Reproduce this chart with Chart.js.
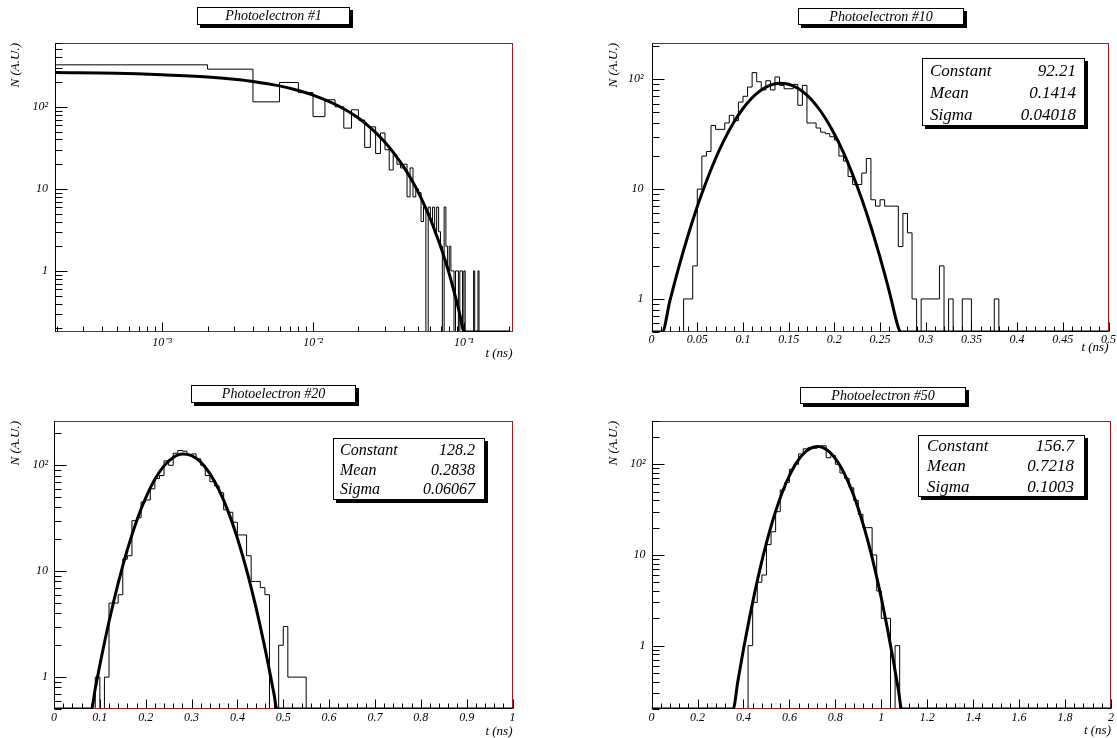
<!DOCTYPE html>
<html>
<head>
<meta charset="utf-8">
<script src="https://cdn.jsdelivr.net/npm/chart.js@4.4.1/dist/chart.umd.min.js"></script>
<style>
  body { margin: 0; background: #fff; width: 1117px; height: 738px; position: relative; overflow: hidden; }
  .pane { position: absolute; }
  .box { position: absolute; box-sizing: border-box; border: 1px solid #000; box-shadow: 3px 3px 0 #000; background: #fff;
         font-family: 'Liberation Serif', 'Times New Roman', serif; font-style: italic; color: #000; }
  .title { text-align: center; font-size: 14px; line-height: 15px; }
  .row { display: flex; justify-content: space-between; }
</style>
</head>
<body>
<div class="pane" style="left:0;top:0;width:558px;height:370px"><canvas id="c1"></canvas></div>
<div class="pane" style="left:558px;top:0;width:559px;height:370px"><canvas id="c2"></canvas></div>
<div class="pane" style="left:0;top:370px;width:558px;height:368px"><canvas id="c3"></canvas></div>
<div class="pane" style="left:558px;top:370px;width:559px;height:368px"><canvas id="c4"></canvas></div>
<script>
// ---------- data ----------
const titles = ['Photoelectron #1', 'Photoelectron #10', 'Photoelectron #20', 'Photoelectron #50'];
const xTitle = 't (ns)';
const yTitle = 'N (A.U.)';
const decadeLabels = { '-3': '10⁻³', '-2': '10⁻²', '-1': '10⁻¹', '0': '1', '1': '10', '2': '10²' };
const statNames = ['Constant', 'Mean', 'Sigma'];

// panel 1: 100 bins over 0..0.2 ns, log-log
const p1Range = [0, 0.2];
const p1Counts = [
  325, 288, 115, 198, 149, 76, 122, 100, 55, 92,
  69, 32, 57, 27, 48, 30, 17, 26, 20, 18,
  20, 8, 18, 8, 10, 9, 4, 6, 0, 6,
  4, 6, 3, 6, 3, 2, 0, 6, 2, 1,
  2, 1, 1, 0, 1, 1, 0, 1, 1, 0,
  1, 0, 0, 0, 0, 0, 0, 0, 1, 0,
  0, 0, 1, 0, 0, 0, 0, 0, 0, 0,
  0, 0, 0, 0, 0, 0, 0, 0, 0, 0,
  0, 0, 0, 0, 0, 0, 0, 0, 0, 0,
  0, 0, 0, 0, 0, 0, 0, 0, 0, 0
];
const p1FitT = [0.000195, 0.0005, 0.001, 0.002, 0.003, 0.004, 0.006, 0.008, 0.01, 0.015, 0.02, 0.025, 0.03, 0.035,
  0.04, 0.045, 0.05, 0.055, 0.06, 0.065, 0.07, 0.075, 0.08, 0.085, 0.09, 0.095, 0.1, 0.2];
const p1FitN = [262, 257, 246, 231, 217, 204, 180, 158, 139, 101, 73, 52, 37, 26,
  18.4, 12.9, 9.0, 6.2, 4.3, 2.9, 2.0, 1.36, 0.92, 0.61, 0.41, 0.27, 0.18, 0.18];

// panel 2: 100 bins over 0..0.5 ns
const p2Range = [0, 0.5];
const p2Counts = [
  0, 0, 0, 0, 0, 0, 0, 1, 1, 2,
  10, 20, 22, 38, 35, 35, 40, 47, 42, 62,
  70, 85, 115, 95, 80, 97, 80, 105, 88, 82,
  82, 90, 58, 88, 40, 40, 36, 33, 32, 30,
  28, 20, 18, 13, 11, 11, 14, 19, 8, 7,
  8, 7, 7, 7, 3, 6, 4, 1, 0, 1,
  1, 1, 1, 2, 0, 1, 0, 0, 1, 1,
  0, 0, 0, 0, 0, 1, 0, 0, 0, 0,
  0, 0, 0, 0, 0, 0, 0, 0, 0, 0,
  0, 0, 0, 0, 0, 0, 0, 0, 0, 0
];
const p2FitT = [0, 0.0116, 0.02, 0.03, 0.04, 0.05, 0.06, 0.07, 0.08, 0.09, 0.10, 0.11, 0.12, 0.13, 0.14,
  0.15, 0.16, 0.17, 0.18, 0.19, 0.20, 0.21, 0.22, 0.23, 0.24, 0.25, 0.26, 0.27, 0.2725, 0.5];
const p2FitN = [0.5, 0.5, 0.96, 1.98, 3.82, 6.94, 11.8, 19.0, 28.7, 40.7, 54.2, 68.0, 80.0, 88.6, 92.2,
  90.1, 82.8, 71.6, 58.2, 44.4, 31.8, 21.5, 13.6, 8.12, 4.54, 2.39, 1.18, 0.549, 0.5, 0.5];
const p2Stats = ['92.21', '0.1414', '0.04018'];

// panel 3: 100 bins over 0..1 ns
const p3Range = [0, 1];
const p3Counts = [
  0, 0, 0, 0, 0, 0, 0, 0, 0, 1,
  0, 1, 5, 5, 6, 13, 14, 30, 32, 45,
  47, 60, 75, 80, 110, 100, 130, 138, 136, 125,
  128, 115, 100, 80, 70, 64, 55, 38, 36, 29,
  22, 22, 14, 8, 8, 7, 6, 0, 0, 2,
  3, 1, 1, 1, 1, 0, 0, 0, 0, 0,
  0, 0, 0, 0, 0, 0, 0, 0, 0, 0,
  0, 0, 0, 0, 0, 0, 0, 0, 0, 0,
  0, 0, 0, 0, 0, 0, 0, 0, 0, 0,
  0, 0, 0, 0, 0, 0, 0, 0, 0, 0
];
const p3FitT = [0, 0.0817, 0.09, 0.10, 0.12, 0.14, 0.16, 0.18, 0.20, 0.22, 0.24, 0.26, 0.28, 0.30,
  0.32, 0.34, 0.36, 0.38, 0.40, 0.42, 0.44, 0.46, 0.48, 0.486, 1];
const p3FitN = [0.5, 0.5, 0.78, 1.30, 3.35, 7.73, 16.0, 29.7, 49.4, 73.8, 98.8, 118.7, 127.9, 123.7,
  107.3, 83.5, 58.3, 36.5, 20.5, 10.3, 4.66, 1.89, 0.687, 0.5, 0.5];
const p3Stats = ['128.2', '0.2838', '0.06067'];

// panel 4: 100 bins over 0..2 ns
const p4Range = [0, 2];
const p4Counts = [
  0, 0, 0, 0, 0, 0, 0, 0, 0, 0,
  0, 0, 0, 0, 0, 0, 0, 0, 0, 0,
  0, 1, 3, 5, 6, 13, 18, 30, 52, 63,
  88, 100, 130, 148, 152, 150, 158, 160, 118, 125,
  100, 80, 70, 55, 40, 28, 20, 20, 10, 4,
  2, 2, 0, 1, 0, 0, 0, 0, 0, 0,
  0, 0, 0, 0, 0, 0, 0, 0, 0, 0,
  0, 0, 0, 0, 0, 0, 0, 0, 0, 0,
  0, 0, 0, 0, 0, 0, 0, 0, 0, 0,
  0, 0, 0, 0, 0, 0, 0, 0, 0, 0
];
const p4FitT = [0, 0.355, 0.375, 0.40, 0.425, 0.45, 0.475, 0.50, 0.525, 0.55, 0.575, 0.60, 0.625, 0.65,
  0.675, 0.70, 0.725, 0.75, 0.775, 0.80, 0.825, 0.85, 0.875, 0.90, 0.925, 0.95, 0.975, 1.00, 1.025, 1.05,
  1.075, 1.0885, 2];
const p4FitN = [0.2, 0.2, 0.397, 0.911, 1.96, 3.97, 7.59, 13.6, 22.9, 36.1, 53.7, 75.0, 98.4, 121.3,
  140.5, 153.0, 156.7, 150.6, 136.1, 115.6, 92.3, 69.2, 48.8, 32.3, 20.1, 11.8, 6.47, 3.35, 1.62, 0.74,
  0.318, 0.2, 0.2];
const p4Stats = ['156.7', '0.7218', '0.1003'];

// ---------- layout / style ----------
const FONT = "'Liberation Serif', 'Times New Roman', serif";
const FRAME_RED = '#a31a1a';

const panels = [
  { id: 'c1', range: p1Range, counts: p1Counts, fitT: p1FitT, fitN: p1FitN, xType: 'logarithmic',
    xMin: 0.000195, xMax: 0.21, yMin: 0.18, yMax: 600,
    pad: { left: 0, right: 45.5, top: 43, bottom: 0 }, yW: 55, xH: 38, xTickPad: 4, xTitlePad: 9.5, yTitlePad: 9.5, yTickPad: 7 },
  { id: 'c2', range: p2Range, counts: p2Counts, fitT: p2FitT, fitN: p2FitN, xType: 'linear',
    xMin: 0, xMax: 0.5, step: 0.05, yMin: 0.5, yMax: 214,
    pad: { left: 0, right: 7, top: 43, bottom: 0 }, yW: 93.6, xH: 38, xTickPad: 1, xTitlePad: 15.5, yTitlePad: 49.5, yTickPad: 8 },
  { id: 'c3', range: p3Range, counts: p3Counts, fitT: p3FitT, fitN: p3FitN, xType: 'linear',
    xMin: 0, xMax: 1, step: 0.1, yMin: 0.5, yMax: 262,
    pad: { left: 0, right: 45.5, top: 51, bottom: 0 }, yW: 54, xH: 29, xTickPad: 2, xTitlePad: 0, yTitlePad: 9.5, yTickPad: 6 },
  { id: 'c4', range: p4Range, counts: p4Counts, fitT: p4FitT, fitN: p4FitN, xType: 'linear',
    xMin: 0, xMax: 2, step: 0.2, yMin: 0.2, yMax: 300,
    pad: { left: 0, right: 6, top: 51, bottom: 0 }, yW: 93.6, xH: 29, xTickPad: 2, xTitlePad: 0.5, yTitlePad: 49.5, yTickPad: 6 }
];

const titleBoxes = [
  { left: 197, top: 7, width: 153, height: 18 },
  { left: 798, top: 8, width: 166, height: 17 },
  { left: 191, top: 385, width: 165, height: 18 },
  { left: 800, top: 387, width: 166, height: 17 }
];
const statBoxes = [
  null,
  { left: 922, top: 58, width: 163, height: 68, size: 17, lh: 22, pt: 1, pl: 7, pr: 8, stats: p2Stats },
  { left: 333, top: 438, width: 152, height: 62, size: 16, lh: 19.5, pt: 1, pl: 6, pr: 9, stats: p3Stats },
  { left: 918, top: 435, width: 167, height: 62, size: 17, lh: 20.3, pt: 0, pl: 8, pr: 10, stats: p4Stats }
];

// histogram -> step points (lower bin edges); empty bins sit on the frame bottom like in ROOT
function histPoints(p) {
  const w = (p.range[1] - p.range[0]) / p.counts.length;
  const fx = v => (p.xType === 'logarithmic' && v < p.xMin) ? p.xMin : v;
  const fy = v => v > 0 ? v : p.yMin;
  const pts = [{ x: fx(p.range[0]), y: p.yMin }];
  p.counts.forEach((c, i) => pts.push({ x: fx(p.range[0] + i * w), y: fy(c) }));
  pts.push({ x: p.range[1], y: p.yMin });
  return pts;
}

function logTickValues(min, max) {
  const out = [];
  for (let e = Math.floor(Math.log10(min)); e <= Math.ceil(Math.log10(max)); e++) {
    for (let k = 1; k <= 9; k++) {
      const v = k * Math.pow(10, e);
      if (v >= min * 0.999 && v <= max * 1.001) out.push([v, k === 1]);
    }
  }
  return out;
}
function linTickValues(min, max, step, sub) {
  const out = [];
  for (let i = 0; ; i++) {
    const v = min + i * step / sub;
    if (v > max + 1e-9) break;
    out.push([v, i % sub === 0]);
  }
  return out;
}

function decadeLabel(v) {
  const l = Math.log10(v), r = Math.round(l);
  return Math.abs(l - r) < 1e-6 && decadeLabels[r] !== undefined ? decadeLabels[r] : '';
}

// ROOT-like frame: red border, black left axis, ticks pointing inwards
const rootFrame = {
  id: 'rootFrame',
  afterDatasetDraw(chart, args) {
    if (args.index !== 1) return;
    const p = chart.options.plugins.rootFrame.panel;
    const { ctx, chartArea: a } = chart;
    const xs = chart.scales.x, ys = chart.scales.y;
    const L = Math.round(a.left) + 0.5, R = Math.round(a.right) - 0.5;
    const T = Math.round(a.top) + 0.5, B = Math.round(a.bottom) - 0.5;
    ctx.save();
    ctx.lineWidth = 1;
    ctx.strokeStyle = FRAME_RED;
    ctx.strokeRect(L, T, R - L, B - T);
    ctx.strokeStyle = '#000';
    ctx.beginPath();
    ctx.moveTo(L, T); ctx.lineTo(L, B + 0.5);
    const xt = p.xType === 'logarithmic' ? logTickValues(p.xMin, p.xMax) : linTickValues(p.xMin, p.xMax, p.step, 5);
    xt.forEach(([v, major]) => {
      const px = Math.round(xs.getPixelForValue(v)) + 0.5;
      ctx.moveTo(px, B); ctx.lineTo(px, B - (major ? 9 : 5));
    });
    logTickValues(p.yMin, p.yMax).forEach(([v, major]) => {
      const py = Math.round(ys.getPixelForValue(v)) + 0.5;
      ctx.moveTo(L, py); ctx.lineTo(L + (major ? 12 : 7), py);
    });
    ctx.stroke();
    ctx.restore();
  }
};

panels.forEach(p => {
  const tickFont = { family: FONT, style: 'italic', size: 12 };
  const titleFont = { family: FONT, style: 'italic', size: 13, lineHeight: 1 };
  new Chart(document.getElementById(p.id), {
    type: 'line',
    data: {
      datasets: [
        { data: p.fitT.map((t, i) => ({ x: t, y: p.fitN[i] })), borderColor: '#000', borderWidth: 3,
          pointRadius: 0, cubicInterpolationMode: 'monotone', fill: false },
        { data: histPoints(p), borderColor: '#000', borderWidth: 1, pointRadius: 0, stepped: true, fill: false }
      ]
    },
    options: {
      responsive: true,
      maintainAspectRatio: false,
      animation: false,
      events: [],
      layout: { padding: p.pad },
      plugins: { legend: { display: false }, tooltip: { enabled: false }, rootFrame: { panel: p } },
      scales: {
        x: {
          type: p.xType, min: p.xMin, max: p.xMax,
          grid: { display: false, drawTicks: false }, border: { display: false },
          ticks: {
            autoSkip: false, maxRotation: 0, minRotation: 0, padding: p.xTickPad, color: '#000', font: tickFont,
            stepSize: p.step,
            callback: v => p.xType === 'logarithmic' ? decadeLabel(v) : String(+v.toFixed(3))
          },
          title: { display: true, text: xTitle, align: 'end', color: '#000', font: titleFont, padding: { top: 0, bottom: p.xTitlePad } },
          afterFit: s => { s.height = p.xH; }
        },
        y: {
          type: 'logarithmic', min: p.yMin, max: p.yMax,
          grid: { display: false, drawTicks: false }, border: { display: false },
          ticks: { autoSkip: false, padding: p.yTickPad, color: '#000', font: tickFont, callback: v => decadeLabel(v) },
          title: { display: true, text: yTitle, align: 'end', color: '#000', font: titleFont, padding: { top: p.yTitlePad, bottom: 0 } },
          afterFit: s => { s.width = p.yW; }
        }
      }
    },
    plugins: [rootFrame]
  });
});

// title boxes and fit-result boxes
titleBoxes.forEach((b, i) => {
  const d = document.createElement('div');
  d.className = 'box title';
  Object.assign(d.style, { left: b.left + 'px', top: b.top + 'px', width: b.width + 'px', height: b.height + 'px' });
  d.textContent = titles[i];
  document.body.appendChild(d);
});
statBoxes.forEach(b => {
  if (!b) return;
  const d = document.createElement('div');
  d.className = 'box';
  Object.assign(d.style, {
    left: b.left + 'px', top: b.top + 'px', width: b.width + 'px', height: b.height + 'px',
    fontSize: b.size + 'px', lineHeight: b.lh + 'px', padding: `${b.pt}px ${b.pr}px 0 ${b.pl}px`
  });
  statNames.forEach((n, i) => {
    const r = document.createElement('div');
    r.className = 'row';
    const a = document.createElement('span'); a.textContent = n;
    const v = document.createElement('span'); v.textContent = b.stats[i];
    r.append(a, v);
    d.appendChild(r);
  });
  document.body.appendChild(d);
});
</script>
</body>
</html>
